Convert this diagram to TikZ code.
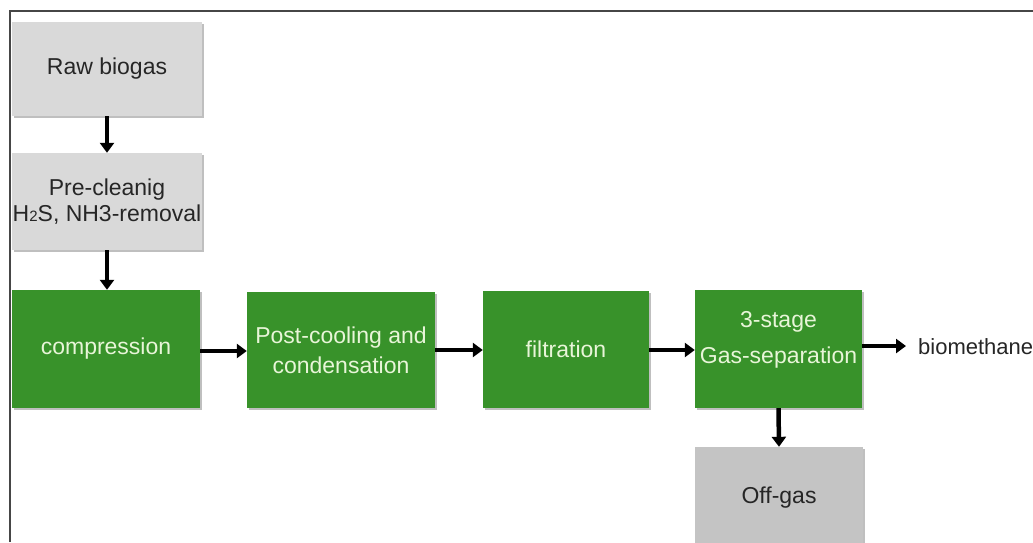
\documentclass[tikz,border=0pt]{standalone}
\usepackage{fontspec}
\setmainfont{Liberation Sans}
\usetikzlibrary{arrows.meta,shadows}
\definecolor{boxgreen}{RGB}{56,146,42}
\definecolor{greentext}{RGB}{232,245,216}
\definecolor{lightgray}{RGB}{217,217,217}
\definecolor{midgray}{RGB}{196,196,196}
\definecolor{frame}{RGB}{70,70,70}
\tikzset{
  shad/.style={drop shadow={shadow xshift=2pt,shadow yshift=-2pt,opacity=0.25,fill=black}},
  graybox/.style={rectangle,fill=lightgray,shad,text=black!85,align=center,inner sep=0pt,
    font=\fontsize{23}{26}\selectfont},
  greenbox/.style={rectangle,fill=boxgreen,shad,text=greentext,align=center,inner sep=0pt,
    font=\fontsize{23}{30}\selectfont},
  flow/.style={line width=4.5pt,-{Triangle[width=14pt,length=10pt]}}
}
\begin{document}
\begin{tikzpicture}[x=1pt,y=-1pt]
\useasboundingbox (0,0) rectangle (1033,542);
\fill[white] (0,0) rectangle (1033,542);
\draw[frame,line width=1.5pt] (10,542) -- (10,11) -- (1033,11);

\node[graybox,minimum width=190pt,minimum height=94pt] (raw) at (107,69) {Raw biogas};
\node[graybox,minimum width=190pt,minimum height=97pt] (pre) at (107,201.5)
  {Pre-cleanig\\H{\fontsize{15}{15}\selectfont 2}S, NH3-removal};
\node[greenbox,minimum width=188pt,minimum height=118pt] (comp) at (106,349) {compression};
\node[greenbox,minimum width=188pt,minimum height=116pt] (post) at (341,350)
  {Post-cooling and\\condensation};
\node[greenbox,minimum width=166pt,minimum height=117pt] (filt) at (566,349.5) {filtration};
\node[greenbox,minimum width=167pt,minimum height=118pt,
  label={[text=greentext,align=center,font=\fontsize{23}{36}\selectfont,yshift=9pt]center:3-stage\\Gas-separation}]
  (sep) at (778.5,349) {};
\node[graybox,fill=midgray,minimum width=168pt,minimum height=113pt,
  label={[text=black!85,font=\fontsize{23}{26}\selectfont,yshift=6pt]center:Off-gas}]
  (off) at (779,503.5) {};
\node[anchor=west,inner sep=0pt,text=black!85,font=\fontsize{22}{26}\selectfont] (bio) at (918,347) {biomethane};

\draw[flow] (raw.south) -- (pre.north);
\draw[flow] (pre.south) -- (pre.south |- comp.north);
\draw[flow] (comp.east |- 0,351) -- (post.west |- 0,351);
\draw[flow] (post.east |- 0,350) -- (filt.west |- 0,350);
\draw[flow] (filt.east |- 0,350) -- (sep.west |- 0,350);
\draw[flow] (sep.east |- 0,346) -- ([xshift=-12pt]bio.west |- 0,346);
\draw[flow] (sep.south) -- (off.north);
\end{tikzpicture}
\end{document}
